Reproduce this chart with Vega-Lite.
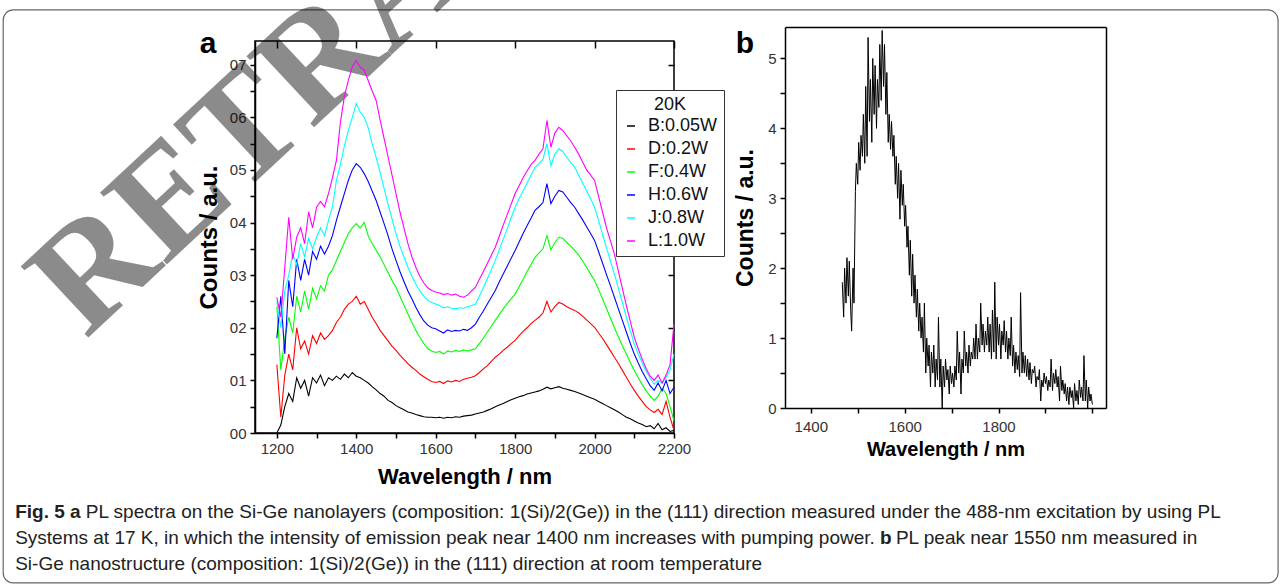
{
"$schema":"https://vega.github.io/schema/vega-lite/v6.json",
"autosize":{"type":"none"},
"padding":{"left":255,"top":41,"right":1030,"bottom":545},
"background":"#ffffff",
"spacing":111,
"bounds":"flush",
"config":{
 "view":{"stroke":null},
 "font":"Liberation Sans",
 "axis":{"grid":false,"domainColor":"#000","domainWidth":1.5,"tickColor":"#000","tickWidth":1.5,"tickSize":5,"labelColor":"#333","labelFontSize":15,"labelFont":"Liberation Sans","titleFont":"Liberation Sans","titleColor":"#000","titleFontWeight":"bold","labelFlush":false,"labelOverlap":false,"labelBound":false}
},
"datasets":{
"frame":[{"x":511,"x2":3721,"y":8.04,"y2":-2.85}],
"ann":[
 {"k":"wm","t":"RETRACTED","x":719,"y":1.767},
 {"k":"lab","t":"a","x":1027.2,"y":7.222},
 {"k":"capb","t":"Fig. 5 a","x":541.1,"y":-1.615},
 {"k":"cap","t":"PL spectra on the Si-Ge nanolayers (composition: 1(Si)/2(Ge)) in the (111) direction measured under the 488-nm excitation by using PL","x":719,"y":-1.615},
 {"k":"cap","t":"Systems at 17 K, in which the intensity of emission peak near 1400 nm increases with pumping power.","x":541.1,"y":-2.11},
 {"k":"capb","t":"b","x":2718.7,"y":-2.11},
 {"k":"cap","t":"PL peak near 1550 nm measured in","x":2758.8,"y":-2.11},
 {"k":"cap","t":"Si-Ge nanostructure (composition: 1(Si)/2(Ge)) in the (111) direction at room temperature","x":541.1,"y":-2.604}
],
"annb":[{"t":"b","x":1259.8,"y":5.078}],
"b":[
{"w":1467,"c":1.8},{"w":1470,"c":1.3},{"w":1472,"c":2.0},{"w":1475,"c":1.5},{"w":1477,"c":2.15},{"w":1480,"c":1.6},{"w":1482,"c":2.1},{"w":1485,"c":1.4},{"w":1487,"c":1.1},{"w":1490,"c":2.0},{"w":1492,"c":1.5},{"w":1495,"c":3.1},{"w":1497,"c":3.5},{"w":1500,"c":3.2},{"w":1502,"c":3.8},{"w":1505,"c":3.4},{"w":1507,"c":3.9},{"w":1510,"c":3.6},{"w":1512,"c":4.2},{"w":1515,"c":3.5},{"w":1517,"c":4.6},{"w":1520,"c":3.6},{"w":1522,"c":5.3},{"w":1525,"c":4.1},{"w":1527,"c":4.7},{"w":1530,"c":3.8},{"w":1532,"c":5.0},{"w":1535,"c":4.2},{"w":1537,"c":4.9},{"w":1540,"c":4.0},{"w":1542,"c":4.7},{"w":1545,"c":4.3},{"w":1547,"c":5.2},{"w":1550,"c":4.4},{"w":1552,"c":5.4},{"w":1555,"c":4.6},{"w":1557,"c":5.2},{"w":1560,"c":4.2},{"w":1562,"c":4.8},{"w":1565,"c":3.8},{"w":1567,"c":4.2},{"w":1570,"c":3.7},{"w":1572,"c":4.1},{"w":1575,"c":3.6},{"w":1577,"c":3.9},{"w":1580,"c":3.2},{"w":1582,"c":3.6},{"w":1585,"c":3.0},{"w":1587,"c":3.5},{"w":1590,"c":2.7},{"w":1592,"c":3.4},{"w":1595,"c":2.9},{"w":1597,"c":3.2},{"w":1600,"c":2.6},{"w":1602,"c":2.9},{"w":1605,"c":2.3},{"w":1607,"c":2.6},{"w":1610,"c":1.9},{"w":1612,"c":2.4},{"w":1615,"c":1.6},{"w":1617,"c":2.2},{"w":1620,"c":1.5},{"w":1622,"c":1.9},{"w":1625,"c":1.3},{"w":1627,"c":1.7},{"w":1630,"c":1.1},{"w":1632,"c":1.5},{"w":1635,"c":1.0},{"w":1637,"c":1.3},{"w":1640,"c":0.8},{"w":1642,"c":1.5},{"w":1645,"c":0.5},{"w":1647,"c":1.0},{"w":1650,"c":0.6},{"w":1652,"c":0.9},{"w":1655,"c":0.3},{"w":1657,"c":0.8},{"w":1660,"c":0.5},{"w":1662,"c":0.9},{"w":1665,"c":0.3},{"w":1667,"c":0.7},{"w":1670,"c":0.4},{"w":1672,"c":1.3},{"w":1675,"c":0.3},{"w":1677,"c":0.7},{"w":1680,"c":0.0},{"w":1682,"c":0.6},{"w":1685,"c":0.3},{"w":1687,"c":0.7},{"w":1690,"c":0.4},{"w":1692,"c":0.55},{"w":1695,"c":0.2},{"w":1697,"c":0.6},{"w":1700,"c":0.35},{"w":1702,"c":0.5},{"w":1705,"c":0.3},{"w":1707,"c":0.6},{"w":1710,"c":0.4},{"w":1712,"c":1.1},{"w":1715,"c":0.5},{"w":1717,"c":0.8},{"w":1720,"c":0.2},{"w":1722,"c":0.7},{"w":1725,"c":0.5},{"w":1727,"c":1.1},{"w":1730,"c":0.6},{"w":1732,"c":0.8},{"w":1735,"c":0.5},{"w":1737,"c":0.9},{"w":1740,"c":0.6},{"w":1742,"c":0.8},{"w":1745,"c":0.7},{"w":1747,"c":1.0},{"w":1750,"c":0.7},{"w":1752,"c":1.2},{"w":1755,"c":0.7},{"w":1757,"c":1.0},{"w":1760,"c":0.8},{"w":1762,"c":1.5},{"w":1765,"c":0.9},{"w":1767,"c":1.2},{"w":1770,"c":0.8},{"w":1772,"c":1.1},{"w":1775,"c":0.9},{"w":1777,"c":1.3},{"w":1780,"c":0.8},{"w":1782,"c":1.2},{"w":1785,"c":0.7},{"w":1787,"c":1.4},{"w":1790,"c":0.8},{"w":1792,"c":1.8},{"w":1795,"c":0.7},{"w":1797,"c":1.3},{"w":1800,"c":0.9},{"w":1802,"c":1.2},{"w":1805,"c":0.7},{"w":1807,"c":1.1},{"w":1810,"c":0.9},{"w":1812,"c":1.25},{"w":1815,"c":0.8},{"w":1817,"c":1.1},{"w":1820,"c":0.7},{"w":1822,"c":1.0},{"w":1825,"c":0.75},{"w":1827,"c":1.3},{"w":1830,"c":0.6},{"w":1832,"c":0.9},{"w":1835,"c":0.5},{"w":1837,"c":0.8},{"w":1840,"c":0.55},{"w":1842,"c":0.75},{"w":1845,"c":0.45},{"w":1847,"c":1.65},{"w":1850,"c":0.5},{"w":1852,"c":0.8},{"w":1855,"c":0.5},{"w":1857,"c":0.75},{"w":1860,"c":0.45},{"w":1862,"c":0.7},{"w":1865,"c":0.4},{"w":1867,"c":0.65},{"w":1870,"c":0.35},{"w":1872,"c":0.55},{"w":1875,"c":0.5},{"w":1877,"c":0.6},{"w":1880,"c":0.3},{"w":1882,"c":0.45},{"w":1885,"c":0.4},{"w":1887,"c":0.55},{"w":1890,"c":0.1},{"w":1892,"c":0.4},{"w":1895,"c":0.3},{"w":1897,"c":0.5},{"w":1900,"c":0.35},{"w":1902,"c":0.45},{"w":1905,"c":0.25},{"w":1907,"c":0.4},{"w":1910,"c":0.3},{"w":1912,"c":0.7},{"w":1915,"c":0.25},{"w":1917,"c":0.5},{"w":1920,"c":0.35},{"w":1922,"c":0.55},{"w":1925,"c":0.3},{"w":1927,"c":0.45},{"w":1930,"c":0.1},{"w":1932,"c":0.6},{"w":1935,"c":0.25},{"w":1937,"c":0.4},{"w":1940,"c":0.2},{"w":1942,"c":0.35},{"w":1945,"c":0.1},{"w":1947,"c":0.3},{"w":1950,"c":0.05},{"w":1952,"c":0.3},{"w":1955,"c":0.15},{"w":1957,"c":0.25},{"w":1960,"c":0.0},{"w":1962,"c":0.35},{"w":1965,"c":0.1},{"w":1967,"c":0.25},{"w":1970,"c":0.05},{"w":1972,"c":0.4},{"w":1975,"c":0.15},{"w":1977,"c":0.3},{"w":1980,"c":0.1},{"w":1982,"c":0.75},{"w":1985,"c":0.1},{"w":1987,"c":0.4},{"w":1990,"c":0.0},{"w":1992,"c":0.3},{"w":1995,"c":0.1},{"w":1997,"c":0.2},{"w":2000,"c":0.05}
],
"a":[
{"s":"B:0.05W","w":1200,"c":0.0},{"s":"B:0.05W","w":1210,"c":0.15},{"s":"B:0.05W","w":1220,"c":0.5},{"s":"B:0.05W","w":1230,"c":0.75},{"s":"B:0.05W","w":1240,"c":0.6},{"s":"B:0.05W","w":1250,"c":1.05},{"s":"B:0.05W","w":1260,"c":0.85},{"s":"B:0.05W","w":1270,"c":1.0},{"s":"B:0.05W","w":1280,"c":0.7},{"s":"B:0.05W","w":1290,"c":1.05},{"s":"B:0.05W","w":1300,"c":0.95},{"s":"B:0.05W","w":1310,"c":1.1},{"s":"B:0.05W","w":1320,"c":0.9},{"s":"B:0.05W","w":1330,"c":1.05},{"s":"B:0.05W","w":1340,"c":1.0},{"s":"B:0.05W","w":1350,"c":1.08},{"s":"B:0.05W","w":1360,"c":1.02},{"s":"B:0.05W","w":1370,"c":1.12},{"s":"B:0.05W","w":1380,"c":1.05},{"s":"B:0.05W","w":1390,"c":1.15},{"s":"B:0.05W","w":1400,"c":1.08},{"s":"B:0.05W","w":1410,"c":1.05},{"s":"B:0.05W","w":1420,"c":1.0},{"s":"B:0.05W","w":1430,"c":0.95},{"s":"B:0.05W","w":1440,"c":0.88},{"s":"B:0.05W","w":1450,"c":0.82},{"s":"B:0.05W","w":1460,"c":0.75},{"s":"B:0.05W","w":1470,"c":0.7},{"s":"B:0.05W","w":1480,"c":0.62},{"s":"B:0.05W","w":1490,"c":0.58},{"s":"B:0.05W","w":1500,"c":0.52},{"s":"B:0.05W","w":1510,"c":0.48},{"s":"B:0.05W","w":1520,"c":0.44},{"s":"B:0.05W","w":1530,"c":0.4},{"s":"B:0.05W","w":1540,"c":0.38},{"s":"B:0.05W","w":1550,"c":0.35},{"s":"B:0.05W","w":1560,"c":0.33},{"s":"B:0.05W","w":1570,"c":0.31},{"s":"B:0.05W","w":1580,"c":0.3},{"s":"B:0.05W","w":1590,"c":0.3},{"s":"B:0.05W","w":1600,"c":0.29},{"s":"B:0.05W","w":1610,"c":0.3},{"s":"B:0.05W","w":1620,"c":0.28},{"s":"B:0.05W","w":1630,"c":0.3},{"s":"B:0.05W","w":1640,"c":0.29},{"s":"B:0.05W","w":1650,"c":0.31},{"s":"B:0.05W","w":1660,"c":0.3},{"s":"B:0.05W","w":1670,"c":0.32},{"s":"B:0.05W","w":1680,"c":0.33},{"s":"B:0.05W","w":1690,"c":0.34},{"s":"B:0.05W","w":1700,"c":0.36},{"s":"B:0.05W","w":1710,"c":0.38},{"s":"B:0.05W","w":1720,"c":0.4},{"s":"B:0.05W","w":1730,"c":0.43},{"s":"B:0.05W","w":1740,"c":0.46},{"s":"B:0.05W","w":1750,"c":0.5},{"s":"B:0.05W","w":1760,"c":0.53},{"s":"B:0.05W","w":1770,"c":0.56},{"s":"B:0.05W","w":1780,"c":0.6},{"s":"B:0.05W","w":1790,"c":0.63},{"s":"B:0.05W","w":1800,"c":0.66},{"s":"B:0.05W","w":1810,"c":0.69},{"s":"B:0.05W","w":1820,"c":0.71},{"s":"B:0.05W","w":1830,"c":0.74},{"s":"B:0.05W","w":1840,"c":0.76},{"s":"B:0.05W","w":1850,"c":0.78},{"s":"B:0.05W","w":1860,"c":0.8},{"s":"B:0.05W","w":1870,"c":0.83},{"s":"B:0.05W","w":1880,"c":0.87},{"s":"B:0.05W","w":1890,"c":0.84},{"s":"B:0.05W","w":1900,"c":0.86},{"s":"B:0.05W","w":1910,"c":0.88},{"s":"B:0.05W","w":1920,"c":0.85},{"s":"B:0.05W","w":1930,"c":0.83},{"s":"B:0.05W","w":1940,"c":0.81},{"s":"B:0.05W","w":1950,"c":0.79},{"s":"B:0.05W","w":1960,"c":0.76},{"s":"B:0.05W","w":1970,"c":0.73},{"s":"B:0.05W","w":1980,"c":0.7},{"s":"B:0.05W","w":1990,"c":0.67},{"s":"B:0.05W","w":2000,"c":0.64},{"s":"B:0.05W","w":2010,"c":0.6},{"s":"B:0.05W","w":2020,"c":0.56},{"s":"B:0.05W","w":2030,"c":0.52},{"s":"B:0.05W","w":2040,"c":0.48},{"s":"B:0.05W","w":2050,"c":0.44},{"s":"B:0.05W","w":2060,"c":0.4},{"s":"B:0.05W","w":2070,"c":0.35},{"s":"B:0.05W","w":2080,"c":0.3},{"s":"B:0.05W","w":2090,"c":0.27},{"s":"B:0.05W","w":2100,"c":0.23},{"s":"B:0.05W","w":2110,"c":0.19},{"s":"B:0.05W","w":2120,"c":0.16},{"s":"B:0.05W","w":2130,"c":0.12},{"s":"B:0.05W","w":2140,"c":0.14},{"s":"B:0.05W","w":2150,"c":0.08},{"s":"B:0.05W","w":2160,"c":0.18},{"s":"B:0.05W","w":2170,"c":0.06},{"s":"B:0.05W","w":2180,"c":0.1},{"s":"B:0.05W","w":2190,"c":0.03},{"s":"B:0.05W","w":2200,"c":0.05},
{"s":"D:0.2W","w":1200,"c":1.3},{"s":"D:0.2W","w":1210,"c":0.3},{"s":"D:0.2W","w":1220,"c":1.1},{"s":"D:0.2W","w":1230,"c":1.5},{"s":"D:0.2W","w":1240,"c":1.2},{"s":"D:0.2W","w":1250,"c":2.0},{"s":"D:0.2W","w":1260,"c":1.6},{"s":"D:0.2W","w":1270,"c":1.75},{"s":"D:0.2W","w":1280,"c":1.5},{"s":"D:0.2W","w":1290,"c":1.85},{"s":"D:0.2W","w":1300,"c":1.7},{"s":"D:0.2W","w":1310,"c":1.9},{"s":"D:0.2W","w":1320,"c":1.78},{"s":"D:0.2W","w":1330,"c":1.85},{"s":"D:0.2W","w":1340,"c":1.95},{"s":"D:0.2W","w":1350,"c":2.1},{"s":"D:0.2W","w":1360,"c":2.2},{"s":"D:0.2W","w":1370,"c":2.35},{"s":"D:0.2W","w":1380,"c":2.45},{"s":"D:0.2W","w":1390,"c":2.5},{"s":"D:0.2W","w":1400,"c":2.6},{"s":"D:0.2W","w":1410,"c":2.45},{"s":"D:0.2W","w":1420,"c":2.5},{"s":"D:0.2W","w":1430,"c":2.35},{"s":"D:0.2W","w":1440,"c":2.2},{"s":"D:0.2W","w":1450,"c":2.08},{"s":"D:0.2W","w":1460,"c":1.95},{"s":"D:0.2W","w":1470,"c":1.85},{"s":"D:0.2W","w":1480,"c":1.75},{"s":"D:0.2W","w":1490,"c":1.65},{"s":"D:0.2W","w":1500,"c":1.57},{"s":"D:0.2W","w":1510,"c":1.48},{"s":"D:0.2W","w":1520,"c":1.4},{"s":"D:0.2W","w":1530,"c":1.32},{"s":"D:0.2W","w":1540,"c":1.25},{"s":"D:0.2W","w":1550,"c":1.19},{"s":"D:0.2W","w":1560,"c":1.12},{"s":"D:0.2W","w":1570,"c":1.07},{"s":"D:0.2W","w":1580,"c":1.02},{"s":"D:0.2W","w":1590,"c":0.98},{"s":"D:0.2W","w":1600,"c":0.96},{"s":"D:0.2W","w":1610,"c":0.98},{"s":"D:0.2W","w":1620,"c":0.94},{"s":"D:0.2W","w":1630,"c":0.99},{"s":"D:0.2W","w":1640,"c":0.97},{"s":"D:0.2W","w":1650,"c":1.0},{"s":"D:0.2W","w":1660,"c":0.98},{"s":"D:0.2W","w":1670,"c":1.02},{"s":"D:0.2W","w":1680,"c":1.04},{"s":"D:0.2W","w":1690,"c":1.06},{"s":"D:0.2W","w":1700,"c":1.09},{"s":"D:0.2W","w":1710,"c":1.15},{"s":"D:0.2W","w":1720,"c":1.22},{"s":"D:0.2W","w":1730,"c":1.28},{"s":"D:0.2W","w":1740,"c":1.36},{"s":"D:0.2W","w":1750,"c":1.44},{"s":"D:0.2W","w":1760,"c":1.5},{"s":"D:0.2W","w":1770,"c":1.57},{"s":"D:0.2W","w":1780,"c":1.63},{"s":"D:0.2W","w":1790,"c":1.7},{"s":"D:0.2W","w":1800,"c":1.76},{"s":"D:0.2W","w":1810,"c":1.85},{"s":"D:0.2W","w":1820,"c":1.93},{"s":"D:0.2W","w":1830,"c":2.0},{"s":"D:0.2W","w":1840,"c":2.08},{"s":"D:0.2W","w":1850,"c":2.14},{"s":"D:0.2W","w":1860,"c":2.2},{"s":"D:0.2W","w":1870,"c":2.28},{"s":"D:0.2W","w":1880,"c":2.5},{"s":"D:0.2W","w":1890,"c":2.3},{"s":"D:0.2W","w":1900,"c":2.4},{"s":"D:0.2W","w":1910,"c":2.48},{"s":"D:0.2W","w":1920,"c":2.45},{"s":"D:0.2W","w":1930,"c":2.4},{"s":"D:0.2W","w":1940,"c":2.36},{"s":"D:0.2W","w":1950,"c":2.33},{"s":"D:0.2W","w":1960,"c":2.28},{"s":"D:0.2W","w":1970,"c":2.22},{"s":"D:0.2W","w":1980,"c":2.15},{"s":"D:0.2W","w":1990,"c":2.08},{"s":"D:0.2W","w":2000,"c":2.01},{"s":"D:0.2W","w":2010,"c":1.9},{"s":"D:0.2W","w":2020,"c":1.8},{"s":"D:0.2W","w":2030,"c":1.68},{"s":"D:0.2W","w":2040,"c":1.56},{"s":"D:0.2W","w":2050,"c":1.44},{"s":"D:0.2W","w":2060,"c":1.32},{"s":"D:0.2W","w":2070,"c":1.19},{"s":"D:0.2W","w":2080,"c":1.06},{"s":"D:0.2W","w":2090,"c":0.93},{"s":"D:0.2W","w":2100,"c":0.81},{"s":"D:0.2W","w":2110,"c":0.7},{"s":"D:0.2W","w":2120,"c":0.6},{"s":"D:0.2W","w":2130,"c":0.5},{"s":"D:0.2W","w":2140,"c":0.44},{"s":"D:0.2W","w":2150,"c":0.39},{"s":"D:0.2W","w":2160,"c":0.45},{"s":"D:0.2W","w":2170,"c":0.35},{"s":"D:0.2W","w":2180,"c":0.6},{"s":"D:0.2W","w":2190,"c":0.3},{"s":"D:0.2W","w":2200,"c":0.05},
{"s":"F:0.4W","w":1200,"c":2.4},{"s":"F:0.4W","w":1210,"c":1.2},{"s":"F:0.4W","w":1220,"c":1.8},{"s":"F:0.4W","w":1230,"c":2.2},{"s":"F:0.4W","w":1240,"c":1.9},{"s":"F:0.4W","w":1250,"c":2.6},{"s":"F:0.4W","w":1260,"c":2.3},{"s":"F:0.4W","w":1270,"c":2.7},{"s":"F:0.4W","w":1280,"c":2.35},{"s":"F:0.4W","w":1290,"c":2.75},{"s":"F:0.4W","w":1300,"c":2.55},{"s":"F:0.4W","w":1310,"c":2.8},{"s":"F:0.4W","w":1320,"c":2.7},{"s":"F:0.4W","w":1330,"c":3.0},{"s":"F:0.4W","w":1340,"c":3.1},{"s":"F:0.4W","w":1350,"c":3.28},{"s":"F:0.4W","w":1360,"c":3.45},{"s":"F:0.4W","w":1370,"c":3.62},{"s":"F:0.4W","w":1380,"c":3.79},{"s":"F:0.4W","w":1390,"c":3.9},{"s":"F:0.4W","w":1400,"c":3.98},{"s":"F:0.4W","w":1410,"c":3.9},{"s":"F:0.4W","w":1420,"c":4.0},{"s":"F:0.4W","w":1430,"c":3.75},{"s":"F:0.4W","w":1440,"c":3.6},{"s":"F:0.4W","w":1450,"c":3.47},{"s":"F:0.4W","w":1460,"c":3.35},{"s":"F:0.4W","w":1470,"c":3.2},{"s":"F:0.4W","w":1480,"c":3.05},{"s":"F:0.4W","w":1490,"c":2.9},{"s":"F:0.4W","w":1500,"c":2.77},{"s":"F:0.4W","w":1510,"c":2.6},{"s":"F:0.4W","w":1520,"c":2.43},{"s":"F:0.4W","w":1530,"c":2.26},{"s":"F:0.4W","w":1540,"c":2.1},{"s":"F:0.4W","w":1550,"c":1.95},{"s":"F:0.4W","w":1560,"c":1.82},{"s":"F:0.4W","w":1570,"c":1.7},{"s":"F:0.4W","w":1580,"c":1.6},{"s":"F:0.4W","w":1590,"c":1.56},{"s":"F:0.4W","w":1600,"c":1.53},{"s":"F:0.4W","w":1610,"c":1.55},{"s":"F:0.4W","w":1620,"c":1.5},{"s":"F:0.4W","w":1630,"c":1.56},{"s":"F:0.4W","w":1640,"c":1.54},{"s":"F:0.4W","w":1650,"c":1.57},{"s":"F:0.4W","w":1660,"c":1.55},{"s":"F:0.4W","w":1670,"c":1.58},{"s":"F:0.4W","w":1680,"c":1.56},{"s":"F:0.4W","w":1690,"c":1.58},{"s":"F:0.4W","w":1700,"c":1.6},{"s":"F:0.4W","w":1710,"c":1.7},{"s":"F:0.4W","w":1720,"c":1.8},{"s":"F:0.4W","w":1730,"c":1.92},{"s":"F:0.4W","w":1740,"c":2.03},{"s":"F:0.4W","w":1750,"c":2.14},{"s":"F:0.4W","w":1760,"c":2.25},{"s":"F:0.4W","w":1770,"c":2.36},{"s":"F:0.4W","w":1780,"c":2.46},{"s":"F:0.4W","w":1790,"c":2.55},{"s":"F:0.4W","w":1800,"c":2.64},{"s":"F:0.4W","w":1810,"c":2.78},{"s":"F:0.4W","w":1820,"c":2.92},{"s":"F:0.4W","w":1830,"c":3.07},{"s":"F:0.4W","w":1840,"c":3.2},{"s":"F:0.4W","w":1850,"c":3.34},{"s":"F:0.4W","w":1860,"c":3.42},{"s":"F:0.4W","w":1870,"c":3.5},{"s":"F:0.4W","w":1880,"c":3.75},{"s":"F:0.4W","w":1890,"c":3.48},{"s":"F:0.4W","w":1900,"c":3.62},{"s":"F:0.4W","w":1910,"c":3.72},{"s":"F:0.4W","w":1920,"c":3.7},{"s":"F:0.4W","w":1930,"c":3.62},{"s":"F:0.4W","w":1940,"c":3.55},{"s":"F:0.4W","w":1950,"c":3.47},{"s":"F:0.4W","w":1960,"c":3.38},{"s":"F:0.4W","w":1970,"c":3.27},{"s":"F:0.4W","w":1980,"c":3.15},{"s":"F:0.4W","w":1990,"c":3.02},{"s":"F:0.4W","w":2000,"c":2.9},{"s":"F:0.4W","w":2010,"c":2.73},{"s":"F:0.4W","w":2020,"c":2.55},{"s":"F:0.4W","w":2030,"c":2.37},{"s":"F:0.4W","w":2040,"c":2.18},{"s":"F:0.4W","w":2050,"c":2.0},{"s":"F:0.4W","w":2060,"c":1.83},{"s":"F:0.4W","w":2070,"c":1.66},{"s":"F:0.4W","w":2080,"c":1.5},{"s":"F:0.4W","w":2090,"c":1.34},{"s":"F:0.4W","w":2100,"c":1.19},{"s":"F:0.4W","w":2110,"c":1.05},{"s":"F:0.4W","w":2120,"c":0.92},{"s":"F:0.4W","w":2130,"c":0.8},{"s":"F:0.4W","w":2140,"c":0.7},{"s":"F:0.4W","w":2150,"c":0.62},{"s":"F:0.4W","w":2160,"c":0.7},{"s":"F:0.4W","w":2170,"c":0.85},{"s":"F:0.4W","w":2180,"c":0.75},{"s":"F:0.4W","w":2190,"c":0.5},{"s":"F:0.4W","w":2200,"c":0.23},
{"s":"H:0.6W","w":1200,"c":1.8},{"s":"H:0.6W","w":1210,"c":2.6},{"s":"H:0.6W","w":1220,"c":1.5},{"s":"H:0.6W","w":1230,"c":2.9},{"s":"H:0.6W","w":1240,"c":2.4},{"s":"H:0.6W","w":1250,"c":3.3},{"s":"H:0.6W","w":1260,"c":2.9},{"s":"H:0.6W","w":1270,"c":3.3},{"s":"H:0.6W","w":1280,"c":3.0},{"s":"H:0.6W","w":1290,"c":3.45},{"s":"H:0.6W","w":1300,"c":3.3},{"s":"H:0.6W","w":1310,"c":3.55},{"s":"H:0.6W","w":1320,"c":3.4},{"s":"H:0.6W","w":1330,"c":3.55},{"s":"H:0.6W","w":1340,"c":3.75},{"s":"H:0.6W","w":1350,"c":4.04},{"s":"H:0.6W","w":1360,"c":4.3},{"s":"H:0.6W","w":1370,"c":4.55},{"s":"H:0.6W","w":1380,"c":4.8},{"s":"H:0.6W","w":1390,"c":5.0},{"s":"H:0.6W","w":1400,"c":5.12},{"s":"H:0.6W","w":1410,"c":5.05},{"s":"H:0.6W","w":1420,"c":4.93},{"s":"H:0.6W","w":1430,"c":4.78},{"s":"H:0.6W","w":1440,"c":4.6},{"s":"H:0.6W","w":1450,"c":4.42},{"s":"H:0.6W","w":1460,"c":4.2},{"s":"H:0.6W","w":1470,"c":3.98},{"s":"H:0.6W","w":1480,"c":3.75},{"s":"H:0.6W","w":1490,"c":3.5},{"s":"H:0.6W","w":1500,"c":3.28},{"s":"H:0.6W","w":1510,"c":3.07},{"s":"H:0.6W","w":1520,"c":2.88},{"s":"H:0.6W","w":1530,"c":2.7},{"s":"H:0.6W","w":1540,"c":2.55},{"s":"H:0.6W","w":1550,"c":2.39},{"s":"H:0.6W","w":1560,"c":2.25},{"s":"H:0.6W","w":1570,"c":2.13},{"s":"H:0.6W","w":1580,"c":2.05},{"s":"H:0.6W","w":1590,"c":2.0},{"s":"H:0.6W","w":1600,"c":1.98},{"s":"H:0.6W","w":1610,"c":1.94},{"s":"H:0.6W","w":1620,"c":1.9},{"s":"H:0.6W","w":1630,"c":1.96},{"s":"H:0.6W","w":1640,"c":1.93},{"s":"H:0.6W","w":1650,"c":1.95},{"s":"H:0.6W","w":1660,"c":1.94},{"s":"H:0.6W","w":1670,"c":1.97},{"s":"H:0.6W","w":1680,"c":1.95},{"s":"H:0.6W","w":1690,"c":2.0},{"s":"H:0.6W","w":1700,"c":2.07},{"s":"H:0.6W","w":1710,"c":2.2},{"s":"H:0.6W","w":1720,"c":2.32},{"s":"H:0.6W","w":1730,"c":2.45},{"s":"H:0.6W","w":1740,"c":2.58},{"s":"H:0.6W","w":1750,"c":2.71},{"s":"H:0.6W","w":1760,"c":2.87},{"s":"H:0.6W","w":1770,"c":3.02},{"s":"H:0.6W","w":1780,"c":3.17},{"s":"H:0.6W","w":1790,"c":3.32},{"s":"H:0.6W","w":1800,"c":3.47},{"s":"H:0.6W","w":1810,"c":3.63},{"s":"H:0.6W","w":1820,"c":3.79},{"s":"H:0.6W","w":1830,"c":3.94},{"s":"H:0.6W","w":1840,"c":4.08},{"s":"H:0.6W","w":1850,"c":4.23},{"s":"H:0.6W","w":1860,"c":4.3},{"s":"H:0.6W","w":1870,"c":4.38},{"s":"H:0.6W","w":1880,"c":4.74},{"s":"H:0.6W","w":1890,"c":4.36},{"s":"H:0.6W","w":1900,"c":4.5},{"s":"H:0.6W","w":1910,"c":4.61},{"s":"H:0.6W","w":1920,"c":4.58},{"s":"H:0.6W","w":1930,"c":4.48},{"s":"H:0.6W","w":1940,"c":4.38},{"s":"H:0.6W","w":1950,"c":4.29},{"s":"H:0.6W","w":1960,"c":4.17},{"s":"H:0.6W","w":1970,"c":4.05},{"s":"H:0.6W","w":1980,"c":3.92},{"s":"H:0.6W","w":1990,"c":3.79},{"s":"H:0.6W","w":2000,"c":3.66},{"s":"H:0.6W","w":2010,"c":3.45},{"s":"H:0.6W","w":2020,"c":3.23},{"s":"H:0.6W","w":2030,"c":3.01},{"s":"H:0.6W","w":2040,"c":2.8},{"s":"H:0.6W","w":2050,"c":2.58},{"s":"H:0.6W","w":2060,"c":2.36},{"s":"H:0.6W","w":2070,"c":2.14},{"s":"H:0.6W","w":2080,"c":1.92},{"s":"H:0.6W","w":2090,"c":1.7},{"s":"H:0.6W","w":2100,"c":1.5},{"s":"H:0.6W","w":2110,"c":1.33},{"s":"H:0.6W","w":2120,"c":1.17},{"s":"H:0.6W","w":2130,"c":1.03},{"s":"H:0.6W","w":2140,"c":0.9},{"s":"H:0.6W","w":2150,"c":0.81},{"s":"H:0.6W","w":2160,"c":0.95},{"s":"H:0.6W","w":2170,"c":0.8},{"s":"H:0.6W","w":2180,"c":1.0},{"s":"H:0.6W","w":2190,"c":0.75},{"s":"H:0.6W","w":2200,"c":0.87},
{"s":"J:0.8W","w":1200,"c":2.5},{"s":"J:0.8W","w":1210,"c":2.0},{"s":"J:0.8W","w":1220,"c":2.7},{"s":"J:0.8W","w":1230,"c":3.0},{"s":"J:0.8W","w":1240,"c":3.4},{"s":"J:0.8W","w":1250,"c":3.2},{"s":"J:0.8W","w":1260,"c":3.6},{"s":"J:0.8W","w":1270,"c":3.35},{"s":"J:0.8W","w":1280,"c":3.7},{"s":"J:0.8W","w":1290,"c":3.5},{"s":"J:0.8W","w":1300,"c":3.72},{"s":"J:0.8W","w":1310,"c":3.9},{"s":"J:0.8W","w":1320,"c":3.75},{"s":"J:0.8W","w":1330,"c":4.04},{"s":"J:0.8W","w":1340,"c":4.3},{"s":"J:0.8W","w":1350,"c":4.8},{"s":"J:0.8W","w":1360,"c":5.1},{"s":"J:0.8W","w":1370,"c":5.45},{"s":"J:0.8W","w":1380,"c":5.75},{"s":"J:0.8W","w":1390,"c":6.0},{"s":"J:0.8W","w":1400,"c":6.26},{"s":"J:0.8W","w":1410,"c":6.1},{"s":"J:0.8W","w":1420,"c":6.0},{"s":"J:0.8W","w":1430,"c":5.8},{"s":"J:0.8W","w":1440,"c":5.5},{"s":"J:0.8W","w":1450,"c":5.24},{"s":"J:0.8W","w":1460,"c":4.95},{"s":"J:0.8W","w":1470,"c":4.65},{"s":"J:0.8W","w":1480,"c":4.35},{"s":"J:0.8W","w":1490,"c":4.07},{"s":"J:0.8W","w":1500,"c":3.79},{"s":"J:0.8W","w":1510,"c":3.55},{"s":"J:0.8W","w":1520,"c":3.35},{"s":"J:0.8W","w":1530,"c":3.15},{"s":"J:0.8W","w":1540,"c":2.98},{"s":"J:0.8W","w":1550,"c":2.83},{"s":"J:0.8W","w":1560,"c":2.7},{"s":"J:0.8W","w":1570,"c":2.6},{"s":"J:0.8W","w":1580,"c":2.52},{"s":"J:0.8W","w":1590,"c":2.48},{"s":"J:0.8W","w":1600,"c":2.45},{"s":"J:0.8W","w":1610,"c":2.42},{"s":"J:0.8W","w":1620,"c":2.38},{"s":"J:0.8W","w":1630,"c":2.4},{"s":"J:0.8W","w":1640,"c":2.37},{"s":"J:0.8W","w":1650,"c":2.36},{"s":"J:0.8W","w":1660,"c":2.38},{"s":"J:0.8W","w":1670,"c":2.37},{"s":"J:0.8W","w":1680,"c":2.4},{"s":"J:0.8W","w":1690,"c":2.42},{"s":"J:0.8W","w":1700,"c":2.45},{"s":"J:0.8W","w":1710,"c":2.6},{"s":"J:0.8W","w":1720,"c":2.76},{"s":"J:0.8W","w":1730,"c":2.93},{"s":"J:0.8W","w":1740,"c":3.1},{"s":"J:0.8W","w":1750,"c":3.28},{"s":"J:0.8W","w":1760,"c":3.48},{"s":"J:0.8W","w":1770,"c":3.68},{"s":"J:0.8W","w":1780,"c":3.88},{"s":"J:0.8W","w":1790,"c":4.09},{"s":"J:0.8W","w":1800,"c":4.29},{"s":"J:0.8W","w":1810,"c":4.45},{"s":"J:0.8W","w":1820,"c":4.6},{"s":"J:0.8W","w":1830,"c":4.75},{"s":"J:0.8W","w":1840,"c":4.9},{"s":"J:0.8W","w":1850,"c":5.05},{"s":"J:0.8W","w":1860,"c":5.12},{"s":"J:0.8W","w":1870,"c":5.2},{"s":"J:0.8W","w":1880,"c":5.5},{"s":"J:0.8W","w":1890,"c":5.08},{"s":"J:0.8W","w":1900,"c":5.3},{"s":"J:0.8W","w":1910,"c":5.4},{"s":"J:0.8W","w":1920,"c":5.35},{"s":"J:0.8W","w":1930,"c":5.24},{"s":"J:0.8W","w":1940,"c":5.14},{"s":"J:0.8W","w":1950,"c":5.05},{"s":"J:0.8W","w":1960,"c":4.9},{"s":"J:0.8W","w":1970,"c":4.75},{"s":"J:0.8W","w":1980,"c":4.6},{"s":"J:0.8W","w":1990,"c":4.45},{"s":"J:0.8W","w":2000,"c":4.29},{"s":"J:0.8W","w":2010,"c":4.04},{"s":"J:0.8W","w":2020,"c":3.78},{"s":"J:0.8W","w":2030,"c":3.52},{"s":"J:0.8W","w":2040,"c":3.27},{"s":"J:0.8W","w":2050,"c":3.02},{"s":"J:0.8W","w":2060,"c":2.75},{"s":"J:0.8W","w":2070,"c":2.48},{"s":"J:0.8W","w":2080,"c":2.2},{"s":"J:0.8W","w":2090,"c":1.94},{"s":"J:0.8W","w":2100,"c":1.69},{"s":"J:0.8W","w":2110,"c":1.5},{"s":"J:0.8W","w":2120,"c":1.33},{"s":"J:0.8W","w":2130,"c":1.17},{"s":"J:0.8W","w":2140,"c":1.04},{"s":"J:0.8W","w":2150,"c":0.93},{"s":"J:0.8W","w":2160,"c":1.0},{"s":"J:0.8W","w":2170,"c":0.95},{"s":"J:0.8W","w":2180,"c":1.05},{"s":"J:0.8W","w":2190,"c":1.2},{"s":"J:0.8W","w":2200,"c":1.5},
{"s":"L:1.0W","w":1200,"c":2.58},{"s":"L:1.0W","w":1210,"c":2.2},{"s":"L:1.0W","w":1220,"c":3.15},{"s":"L:1.0W","w":1230,"c":4.1},{"s":"L:1.0W","w":1240,"c":3.3},{"s":"L:1.0W","w":1250,"c":3.72},{"s":"L:1.0W","w":1260,"c":3.9},{"s":"L:1.0W","w":1270,"c":3.6},{"s":"L:1.0W","w":1280,"c":4.2},{"s":"L:1.0W","w":1290,"c":3.9},{"s":"L:1.0W","w":1300,"c":4.29},{"s":"L:1.0W","w":1310,"c":4.4},{"s":"L:1.0W","w":1320,"c":4.3},{"s":"L:1.0W","w":1330,"c":4.55},{"s":"L:1.0W","w":1340,"c":4.85},{"s":"L:1.0W","w":1350,"c":5.18},{"s":"L:1.0W","w":1360,"c":5.9},{"s":"L:1.0W","w":1370,"c":6.4},{"s":"L:1.0W","w":1380,"c":6.7},{"s":"L:1.0W","w":1390,"c":6.96},{"s":"L:1.0W","w":1400,"c":7.08},{"s":"L:1.0W","w":1410,"c":6.95},{"s":"L:1.0W","w":1420,"c":6.9},{"s":"L:1.0W","w":1430,"c":6.7},{"s":"L:1.0W","w":1440,"c":6.5},{"s":"L:1.0W","w":1450,"c":6.32},{"s":"L:1.0W","w":1460,"c":5.95},{"s":"L:1.0W","w":1470,"c":5.6},{"s":"L:1.0W","w":1480,"c":5.25},{"s":"L:1.0W","w":1490,"c":4.9},{"s":"L:1.0W","w":1500,"c":4.55},{"s":"L:1.0W","w":1510,"c":4.2},{"s":"L:1.0W","w":1520,"c":3.9},{"s":"L:1.0W","w":1530,"c":3.6},{"s":"L:1.0W","w":1540,"c":3.35},{"s":"L:1.0W","w":1550,"c":3.15},{"s":"L:1.0W","w":1560,"c":2.98},{"s":"L:1.0W","w":1570,"c":2.85},{"s":"L:1.0W","w":1580,"c":2.76},{"s":"L:1.0W","w":1590,"c":2.71},{"s":"L:1.0W","w":1600,"c":2.68},{"s":"L:1.0W","w":1610,"c":2.66},{"s":"L:1.0W","w":1620,"c":2.63},{"s":"L:1.0W","w":1630,"c":2.65},{"s":"L:1.0W","w":1640,"c":2.62},{"s":"L:1.0W","w":1650,"c":2.64},{"s":"L:1.0W","w":1660,"c":2.6},{"s":"L:1.0W","w":1670,"c":2.58},{"s":"L:1.0W","w":1680,"c":2.62},{"s":"L:1.0W","w":1690,"c":2.7},{"s":"L:1.0W","w":1700,"c":2.77},{"s":"L:1.0W","w":1710,"c":2.92},{"s":"L:1.0W","w":1720,"c":3.07},{"s":"L:1.0W","w":1730,"c":3.22},{"s":"L:1.0W","w":1740,"c":3.38},{"s":"L:1.0W","w":1750,"c":3.53},{"s":"L:1.0W","w":1760,"c":3.74},{"s":"L:1.0W","w":1770,"c":3.95},{"s":"L:1.0W","w":1780,"c":4.15},{"s":"L:1.0W","w":1790,"c":4.35},{"s":"L:1.0W","w":1800,"c":4.55},{"s":"L:1.0W","w":1810,"c":4.7},{"s":"L:1.0W","w":1820,"c":4.85},{"s":"L:1.0W","w":1830,"c":4.98},{"s":"L:1.0W","w":1840,"c":5.1},{"s":"L:1.0W","w":1850,"c":5.18},{"s":"L:1.0W","w":1860,"c":5.3},{"s":"L:1.0W","w":1870,"c":5.4},{"s":"L:1.0W","w":1880,"c":5.94},{"s":"L:1.0W","w":1890,"c":5.43},{"s":"L:1.0W","w":1900,"c":5.7},{"s":"L:1.0W","w":1910,"c":5.81},{"s":"L:1.0W","w":1920,"c":5.75},{"s":"L:1.0W","w":1930,"c":5.65},{"s":"L:1.0W","w":1940,"c":5.55},{"s":"L:1.0W","w":1950,"c":5.43},{"s":"L:1.0W","w":1960,"c":5.3},{"s":"L:1.0W","w":1970,"c":5.15},{"s":"L:1.0W","w":1980,"c":5.0},{"s":"L:1.0W","w":1990,"c":4.9},{"s":"L:1.0W","w":2000,"c":4.8},{"s":"L:1.0W","w":2010,"c":4.5},{"s":"L:1.0W","w":2020,"c":4.2},{"s":"L:1.0W","w":2030,"c":3.9},{"s":"L:1.0W","w":2040,"c":3.65},{"s":"L:1.0W","w":2050,"c":3.4},{"s":"L:1.0W","w":2060,"c":3.07},{"s":"L:1.0W","w":2070,"c":2.75},{"s":"L:1.0W","w":2080,"c":2.42},{"s":"L:1.0W","w":2090,"c":2.12},{"s":"L:1.0W","w":2100,"c":1.82},{"s":"L:1.0W","w":2110,"c":1.6},{"s":"L:1.0W","w":2120,"c":1.4},{"s":"L:1.0W","w":2130,"c":1.22},{"s":"L:1.0W","w":2140,"c":1.08},{"s":"L:1.0W","w":2150,"c":1.0},{"s":"L:1.0W","w":2160,"c":1.1},{"s":"L:1.0W","w":2170,"c":0.95},{"s":"L:1.0W","w":2180,"c":1.1},{"s":"L:1.0W","w":2190,"c":1.3},{"s":"L:1.0W","w":2200,"c":2.07}
]
},
"hconcat":[
{
 "width":419,"height":392,
 "view":{"stroke":"#000","strokeWidth":1.5},
 "resolve":{"axis":{"x":"independent","y":"independent"}},
 "layer":[
  {"data":{"name":"frame"},
   "mark":{"type":"rect","filled":false,"stroke":"#666","strokeWidth":1.2,"cornerRadius":10},
   "encoding":{
    "x":{"field":"x","type":"quantitative","scale":{"domain":[1145,2200],"nice":false,"zero":false},
     "axis":{"orient":"bottom","values":[1200,1300,1400,1500,1600,1700,1800,1900,2000,2100,2200],"labelExpr":"datum.value % 200 === 0 ? format(datum.value,'d') : ''","title":"Wavelength / nm","titleFontSize":22,"titlePadding":10,"labelPadding":3}},
    "x2":{"field":"x2"},
    "y":{"field":"y","type":"quantitative","scale":{"domain":[0,7.45],"nice":false,"zero":false},
     "axis":{"orient":"left","values":[0,0.5,1,1.5,2,2.5,3,3.5,4,4.5,5,5.5,6,6.5,7],"labelExpr":"datum.value % 1 === 0 ? '0' + format(datum.value,'d') : ''","title":"Counts / a.u.","titleFontSize":24,"titlePadding":8,"labelPadding":4}},
    "y2":{"field":"y2"}}},
  {"data":{"name":"ann"},"transform":[{"filter":"datum.k==='wm'"}],
   "mark":{"type":"text","font":"Liberation Serif","fontWeight":"bold","fontSize":150,"angle":-43,"align":"left","baseline":"alphabetic","color":"#000","opacity":0.45},
   "encoding":{
    "x":{"field":"x","type":"quantitative","scale":{"domain":[1145,2200],"nice":false,"zero":false},"axis":null},
    "y":{"field":"y","type":"quantitative","scale":{"domain":[0,7.45],"nice":false,"zero":false},"axis":null},
    "text":{"field":"t"}}},
  {"data":{"name":"a"},
   "mark":{"type":"line","strokeWidth":1.1},
   "encoding":{
    "x":{"field":"w","type":"quantitative","scale":{"domain":[1145,2200],"nice":false,"zero":false},"axis":null},
    "y":{"field":"c","type":"quantitative","scale":{"domain":[0,7.45],"nice":false,"zero":false},"axis":null},
    "color":{"field":"s","type":"nominal",
     "scale":{"domain":["B:0.05W","D:0.2W","F:0.4W","H:0.6W","J:0.8W","L:1.0W"],"range":["#000000","#ff0000","#00ff00","#0000ff","#00ffff","#ff00ff"]},
     "legend":{"title":"20K","orient":"none","legendX":361,"legendY":49,"symbolType":"stroke","symbolSize":64,"symbolStrokeWidth":1.5,"labelFontSize":18,"labelFont":"Liberation Sans","labelColor":"#111","titleFont":"Liberation Sans","titleFontSize":18,"titleFontWeight":"normal","titleColor":"#111","titleAnchor":"middle","titlePadding":3,"strokeColor":"#333","fillColor":"#ffffff","padding":6,"rowPadding":5,"labelOffset":8}}}},
  {"data":{"name":"ann"},"transform":[{"filter":"datum.k==='cap'"}],
   "mark":{"type":"text","font":"Liberation Sans","fontSize":19,"align":"left","baseline":"alphabetic","color":"#222"},
   "encoding":{
    "x":{"field":"x","type":"quantitative","scale":{"domain":[1145,2200],"nice":false,"zero":false},"axis":null},
    "y":{"field":"y","type":"quantitative","scale":{"domain":[0,7.45],"nice":false,"zero":false},"axis":null},
    "text":{"field":"t"}}},
  {"data":{"name":"ann"},"transform":[{"filter":"datum.k==='capb'"}],
   "mark":{"type":"text","font":"Liberation Sans","fontSize":19,"fontWeight":"bold","align":"left","baseline":"alphabetic","color":"#222"},
   "encoding":{
    "x":{"field":"x","type":"quantitative","scale":{"domain":[1145,2200],"nice":false,"zero":false},"axis":null},
    "y":{"field":"y","type":"quantitative","scale":{"domain":[0,7.45],"nice":false,"zero":false},"axis":null},
    "text":{"field":"t"}}},
  {"data":{"name":"ann"},"transform":[{"filter":"datum.k==='lab'"}],
   "mark":{"type":"text","font":"Liberation Sans","fontSize":30,"fontWeight":"bold","align":"center","baseline":"alphabetic","color":"#000"},
   "encoding":{
    "x":{"field":"x","type":"quantitative","scale":{"domain":[1145,2200],"nice":false,"zero":false},
     "axis":{"orient":"top","domain":false,"labels":false,"title":null,"values":[1200,1400,1600,1800,2000,2200],"tickSize":-7}},
    "y":{"field":"y","type":"quantitative","scale":{"domain":[0,7.45],"nice":false,"zero":false},
     "axis":{"orient":"right","domain":false,"labels":false,"title":null,"values":[1,2,3,4,5,6,7],"tickSize":-6}},
    "text":{"field":"t"}}}
 ]
},
{
 "width":321,"height":367,
 "resolve":{"axis":{"x":"independent","y":"independent"}},
 "layer":[
  {"data":{"name":"b"},
   "mark":{"type":"line","color":"#000","strokeWidth":1},
   "encoding":{
    "x":{"field":"w","type":"quantitative","scale":{"domain":[1345,2029],"nice":false,"zero":false},
     "axis":{"orient":"bottom","values":[1400,1500,1600,1700,1800,1900,2000],"labelExpr":"datum.value % 200 === 0 && datum.value < 2000 ? format(datum.value,'d') : ''","title":"Wavelength / nm","titleFontSize":20,"titlePadding":5,"labelPadding":6}},
    "y":{"field":"c","type":"quantitative","scale":{"domain":[0,5.45],"range":[367,-14],"nice":false,"zero":false},
     "axis":{"orient":"left","values":[0,0.5,1,1.5,2,2.5,3,3.5,4,4.5,5],"labelExpr":"datum.value % 1 === 0 ? format(datum.value,'d') : ''","title":"Counts / a.u.","titleFontSize":23,"titlePadding":10,"labelPadding":4}}}},
  {"data":{"name":"annb"},
   "mark":{"type":"text","font":"Liberation Sans","fontSize":30,"fontWeight":"bold","align":"center","baseline":"alphabetic","color":"#000"},
   "encoding":{
    "x":{"field":"x","type":"quantitative","scale":{"domain":[1345,2029],"nice":false,"zero":false},
     "axis":{"orient":"top","offset":14,"labels":false,"ticks":false,"title":null}},
    "y":{"field":"y","type":"quantitative","scale":{"domain":[0,5.45],"range":[367,-14],"nice":false,"zero":false},
     "axis":{"orient":"right","labels":false,"ticks":false,"title":null}},
    "text":{"field":"t"}}}
 ]
}
]
}
